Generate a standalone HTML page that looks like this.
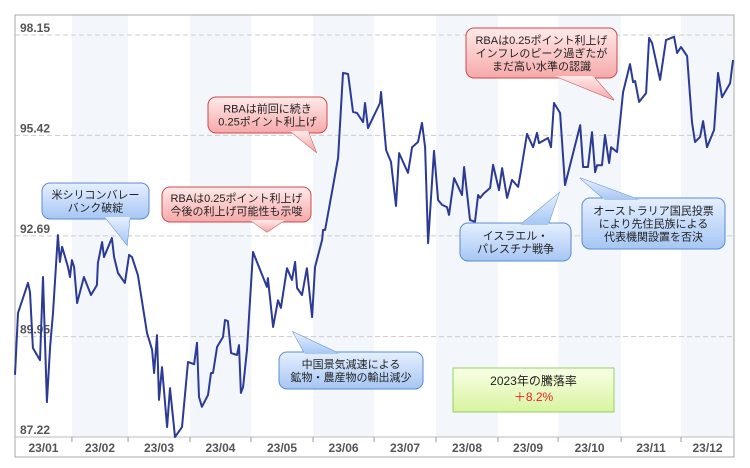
<!DOCTYPE html>
<html><head><meta charset="utf-8">
<style>
html,body{margin:0;padding:0;background:#fff;}
svg{display:block;font-family:"Liberation Sans","Noto Sans CJK JP",sans-serif;}
.ax{font-weight:bold;font-size:12px;fill:#555;}
.ct{font-size:11px;fill:#222;}
</style></head>
<body>
<svg id="chart" width="750" height="468" viewBox="0 0 750 468">
<defs>
<linearGradient id="gRed" x1="0" y1="0" x2="0" y2="1"><stop offset="0" stop-color="#ffeaea"/><stop offset="1" stop-color="#f6a9a9"/></linearGradient>
<linearGradient id="gBlue" x1="0" y1="0" x2="0" y2="1"><stop offset="0" stop-color="#e6f0ff"/><stop offset="1" stop-color="#a6c6f4"/></linearGradient>
<linearGradient id="gGreen" x1="0" y1="0" x2="0" y2="1"><stop offset="0" stop-color="#f8ffe6"/><stop offset="1" stop-color="#d8f4a0"/></linearGradient>
</defs>
<g id="bands"></g>
<g id="grid"></g>
<rect x="15" y="15" width="719" height="442" fill="none" stroke="#aaa"/>
<g id="axes"></g>
<path id="line" fill="none" stroke="#2b3a94" stroke-width="2" stroke-linejoin="round"/>
<g id="notes"></g>
</svg>
<script>
const monthLabels=["23/01","23/02","23/03","23/04","23/05","23/06","23/07","23/08","23/09","23/10","23/11","23/12"];
const monthEdges=[0,28.9,57.4,88.8,119.8,151.3,182.3,213.7,245.2,275.7,307.7,338.1,365];
const yTicks=[87.22,89.95,92.69,95.42,98.15];
const days=[0,1.5,6.6,7.6,9.1,12.7,14.2,16.2,17.8,19.3,21.8,22.8,23.9,26.9,27.9,28.9,30,31.5,35,38.6,41.6,42.1,44.2,45.2,49.2,50.3,52.3,55.8,57.9,59.4,62.4,67,69.6,70.6,72.1,73.1,74.6,77.2,78.7,81.2,84.8,87.8,90.9,92.4,93.4,94.9,98,99.5,100.5,102.6,105.6,106.6,108.1,109.7,112.7,113.7,114.7,115.8,117.8,120.8,127.9,128.4,131,133.5,135,138.1,140.6,142.2,143.2,145.7,148.2,150.8,152.3,155.9,156.4,157.4,161.4,164,166.5,169.1,171.6,173.6,176.7,177.7,179.2,185.3,185.8,188.4,190.9,193.4,195,199.5,201.6,204.6,206.6,208.2,209.7,212.7,214.8,216.8,219.3,220.3,222.9,226.9,228,231,233.5,235.1,236.1,238.1,241.2,242.7,245.7,247.3,249.8,252.3,255.4,256.9,259.9,263,265,266,270.6,272.1,273.6,276.7,279.2,286.9,288.4,290.9,292.9,294.5,295.5,298,299.5,301.6,302.6,305.6,308.7,312.2,313.8,314.8,316.8,320.4,321.9,323.4,327.5,330.5,334.6,336.1,338.1,341.2,342.2,343.7,345.2,347.8,349.3,351.3,354.9,356.9,358.9,363,364.5];
const values=[88.91,90.59,91.41,91.16,89.64,89.31,91.57,88.17,89.67,90.59,92.71,91.98,92.39,91.84,91.57,92.03,91.84,90.86,91.57,91.08,91.35,91.95,92.52,92.11,92.63,92.11,91.68,91.41,92.17,92.11,91.62,90.05,89.59,88.96,89.99,88.23,89.12,87.49,88.55,87.22,87.49,89.26,89.2,89.78,88.31,88.04,88.36,88.96,88.96,89.67,89.94,90.4,90.37,89.5,89.45,89.72,88.42,88.58,89.59,92.25,91.3,91.54,90.21,90.94,90.73,91.81,91.49,91.98,91.27,91.08,91.81,90.48,91.84,92.58,92.85,92.85,94.02,94.81,97.12,97.09,96.06,96.03,95.78,96.3,95.62,96.3,96.6,95.02,94.7,93.5,94.94,94.4,95.1,95.24,95.76,95.1,92.49,95,93.66,93.53,93.47,93.26,94.26,93.8,94.56,93.12,93.07,93.8,93.72,93.85,93.99,94.62,93.93,94.53,93.72,94.21,94.02,94.48,95.46,95.1,95.49,95.21,95.35,95.1,96.3,96.03,94.07,95.7,94.56,94.56,95.51,94.42,94.61,94.61,95.43,94.67,95.1,94.97,96.6,97.36,96.87,96.9,96.33,96.57,98.07,97.93,96.93,98.01,98.1,97.66,97.82,97.58,96.84,95.78,95.24,95.38,95.81,95.1,95.57,97.12,96.46,96.84,97.47];
const NS="http://www.w3.org/2000/svg";
const X0=15,X1=734,Y0=437,Y1=35;
function xs(d){return X0+d/365*(X1-X0);}
function ys(v){return Y0-(v-87.22)/(98.15-87.22)*(Y0-Y1);}
function mk(tag,at,parent){const e=document.createElementNS(NS,tag);for(const k in at)e.setAttribute(k,at[k]);parent.appendChild(e);return e;}
const bands=document.getElementById('bands'),grid=document.getElementById('grid'),axes=document.getElementById('axes');
monthLabels.forEach((m,i)=>{
  const a=xs(monthEdges[i]),b=xs(monthEdges[i+1]);
  if(i%2===1){const r=mk('rect',{x:a,y:15,width:b-a,height:422,fill:'#f3f7fc'},bands);
    
    }
  const t=mk('text',{x:(a+b)/2,y:452,'text-anchor':'middle',class:'ax'},axes);t.textContent=m;
  
  
  if(i>0){const tk=mk('line',{x1:a,x2:a,y1:437,y2:442,stroke:'#999'},axes);
    
    }
});
mk('line',{x1:15,x2:734,y1:437,y2:437,stroke:'#bbb'},axes);
yTicks.forEach(v=>{
  const y=ys(v);
  if(v!==yTicks[0]){const g=mk('line',{x1:15,x2:734,y1:y,y2:y,stroke:'#ccc','stroke-dasharray':'5,3'},grid);
    
    }
  const t=mk('text',{x:20,y:y-3,class:'ax'},axes);t.textContent=v.toFixed(2);
  
  
});
document.getElementById('line').setAttribute('d',days.map((d,i)=>(i?'L':'M')+xs(d).toFixed(1)+' '+ys(values[i]).toFixed(1)).join(''));
const notes=document.getElementById('notes');
function callout(name,x,y,w,h,fill,stroke,tail,lines){
  const g=mk('g',{},notes);
  
  
  const tp=tail.map(p=>p.join(',')).join(' ');
  mk('polygon',{points:tp,fill:fill,stroke:stroke},g);
  mk('rect',{x:x,y:y,width:w,height:h,rx:8,fill:fill,stroke:stroke},g);
  mk('polygon',{points:tp,fill:fill,stroke:'none'},g);
  const n=lines.length,lh=13,start=y+h/2-(n-1)*lh/2+4;
  lines.forEach((s,i)=>{const t=mk('text',{x:x+w/2,y:start+i*lh,'text-anchor':'middle',class:'ct'},g);t.textContent=s;});
}
callout('svb-callout',42,183,107,36,'url(#gBlue)','#5b8bd0',[[105,217],[127,245],[130,217]],["米シリコンバレー","バンク破綻"]);
callout('rba-hike-callout',162,187,149,35,'url(#gRed)','#cc4a4a',[[250,220],[267,232],[285,220]],["RBAは0.25ポイント利上げ","今後の利上げ可能性も示唆"]);
callout('rba-again-callout',208,97,119,36,'url(#gRed)','#cc4a4a',[[290,131],[316,152],[308,131]],["RBAは前回に続き","0.25ポイント利上げ"]);
callout('rba-peak-callout',466,28,151,50,'url(#gRed)','#cc4a4a',[[555,76],[614,100],[593,76]],["RBAは0.25ポイント利上げ","インフレのピーク過ぎたが","まだ高い水準の認識"]);
callout('israel-callout',460,223,111,38,'url(#gBlue)','#5b8bd0',[[520,225],[559,193],[548,225]],["イスラエル・","パレスチナ戦争"]);
callout('referendum-callout',582,198,143,51,'url(#gBlue)','#5b8bd0',[[605,200],[580,178],[640,200]],["オーストラリア国民投票","により先住民族による","代表機関設置を否決"]);
callout('china-callout',279,352,144,37,'url(#gBlue)','#5b8bd0',[[305,354],[293,332],[340,354]],["中国景気減速による","鉱物・農産物の輸出減少"]);
const gb=mk('g',{},notes);


mk('rect',{x:453,y:368,width:161,height:44,fill:'url(#gGreen)',stroke:'#9c6'},gb);
const t1=mk('text',{x:533.5,y:385,'text-anchor':'middle',style:'font-size:12px;fill:#222'},gb);t1.textContent="2023年の騰落率";
const t2=mk('text',{x:533.5,y:401,'text-anchor':'middle',style:'font-size:12px;fill:#e22'},gb);t2.textContent="＋8.2%";
</script>
</body></html>
